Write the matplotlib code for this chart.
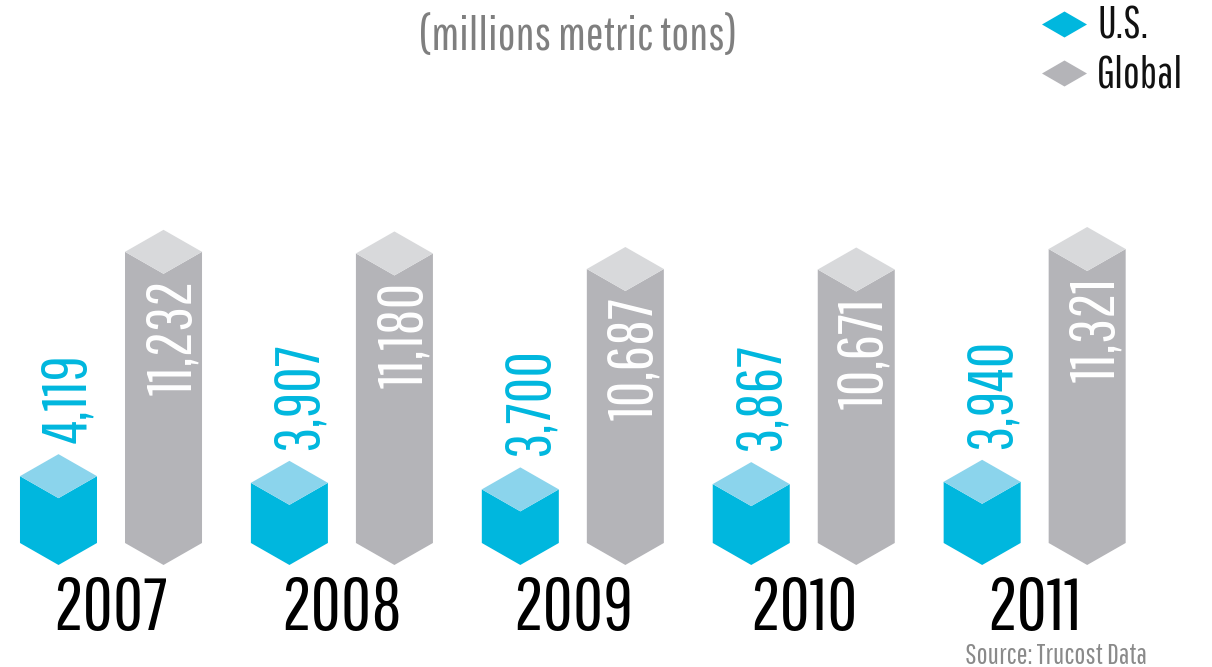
import matplotlib
matplotlib.use('Agg')
from matplotlib import pyplot as plt
from matplotlib.patches import Polygon
from matplotlib.path import Path

years = ['2007', '2008', '2009', '2010', '2011']
us_vals = [4119, 3907, 3700, 3867, 3940]
global_vals = [11232, 11180, 10687, 10671, 11321]
us_labels = ['4,119', '3,907', '3,700', '3,867', '3,940']
global_labels = ['11,232', '11,180', '10,687', '10,671', '11,321']

# columns stand on this floor value, not on zero
FLOOR = 2000

US_FRONT, US_TOP = '#00b7de', '#8bd4ec'
GL_FRONT, GL_TOP = '#b4b4b8', '#d8d9db'
FONT = 'Pathway Gothic One'

W, H, DPI = 12.12, 6.67, 100
fig = plt.figure(figsize=(W, H), dpi=DPI)
ax = fig.add_axes([0, 0, 1, 1])
ax.set_xlim(-0.4807, 4.768)
ax.set_ylim(-1932, 19216)
ax.axis('off')

# half-height of the isometric top face, in y data units (22 px)
y0, y1 = ax.get_ylim()
px = (y1 - y0) / (H * DPI)
depth = 22 * px
bar_w = 0.3335
off = 0.2274


def prism(ax, xc, top, base, w, d, front, topc):
    L, R = xc - w / 2, xc + w / 2
    face = [(L, top), (xc, top - d), (R, top), (R, base), (xc, base - d), (L, base)]
    lid = [(L, top), (xc, top + d), (R, top), (xc, top - d)]
    ax.add_patch(Polygon(face, closed=True, facecolor=front, edgecolor='none'))
    ax.add_patch(Polygon(lid, closed=True, facecolor=topc, edgecolor='none'))


for i, yr in enumerate(years):
    xu, xg = i - off, i + off
    prism(ax, xu, us_vals[i], FLOOR, bar_w, depth, US_FRONT, US_TOP)
    prism(ax, xg, global_vals[i], FLOOR, bar_w, depth, GL_FRONT, GL_TOP)
    ax.text(xu + 0.042, us_vals[i] + depth + 11 * px, us_labels[i], rotation=90,
            ha='center', va='bottom', color=US_FRONT, fontsize=45, family=FONT)
    ax.text(xg + 0.042, global_vals[i] - depth - 6 * px, global_labels[i], rotation=90,
            ha='center', va='top', color='white', fontsize=45, family=FONT)
    ax.text(i, 0.0555, yr, transform=ax.get_xaxis_transform(),
            ha='center', va='baseline', color='black', fontsize=53, family=FONT)

fig.text(0.477, 0.925, '(millions metric tons)', ha='center', va='baseline',
         color='#7f7f7f', fontsize=34, family=FONT)
fig.text(0.9464, 0.005, 'Source: Trucost Data', ha='right', va='baseline',
         color='#8a8a8a', fontsize=21, family=FONT)

# legend: flattened diamonds with labels
diamond = Path([(-1, 0), (0, 0.578), (1, 0), (0, -0.578), (-1, 0)],
               [Path.MOVETO, Path.LINETO, Path.LINETO, Path.LINETO, Path.CLOSEPOLY])
legend_items = [('U.S.', US_FRONT, 24), ('Global', GL_FRONT, 73)]
for name, col, ypx in legend_items:
    ax.scatter([1064 / 1212], [1 - ypx / 667], transform=ax.transAxes, marker=diamond,
               s=32.4 ** 2, color=col, linewidths=0)
    fig.text(1097 / 1212, 1 - (ypx + 2) / 667, name, ha='left', va='center',
             color='#111111', fontsize=32, family=FONT)

fig.savefig('out.png', dpi=DPI)
